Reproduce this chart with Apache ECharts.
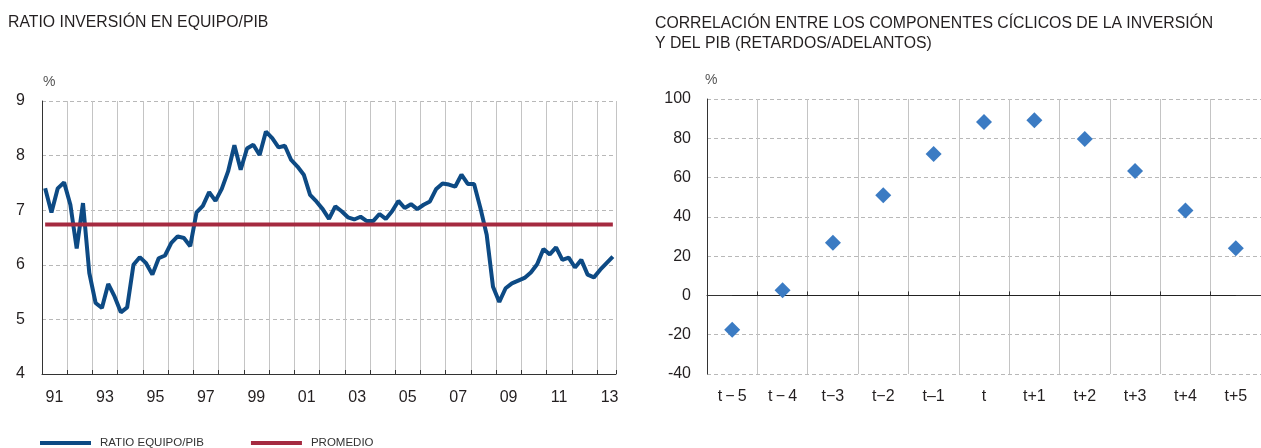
<!DOCTYPE html>
<html>
<head>
<meta charset="utf-8">
<script src="https://cdn.jsdelivr.net/npm/echarts@6/dist/echarts.min.js"></script>
<style>
  html, body { margin: 0; padding: 0; background: #fff; }
  #chart { width: 1261px; height: 448px; }
</style>
</head>
<body>
<div id="chart"></div>
<script>
// años del eje (1991-2013), datos trimestrales hasta 2013 T3
var anios = ['91', '92', '93', '94', '95', '96', '97', '98', '99', '00', '01', '02',
  '03', '04', '05', '06', '07', '08', '09', '10', '11', '12', '13'];
var numTrimestres = 91;

// ratio inversión en equipo / PIB (%), trimestral
var ratioEquipo = [
  7.40, 6.96, 7.40, 7.51, 7.10, 6.30, 7.13, 5.85, 5.30, 5.21,
  5.65, 5.42, 5.13, 5.22, 6.00, 6.14, 6.03, 5.82, 6.12, 6.17,
  6.40, 6.52, 6.49, 6.34, 6.96, 7.08, 7.33, 7.17, 7.39, 7.71,
  8.19, 7.74, 8.13, 8.20, 8.01, 8.44, 8.32, 8.15, 8.18, 7.92,
  7.80, 7.65, 7.28, 7.16, 7.02, 6.84, 7.07, 6.98, 6.87, 6.83,
  6.88, 6.80, 6.80, 6.93, 6.84, 6.98, 7.17, 7.04, 7.11, 7.02,
  7.10, 7.16, 7.39, 7.49, 7.47, 7.43, 7.65, 7.48, 7.48, 7.04,
  6.55, 5.60, 5.32, 5.57, 5.66, 5.71, 5.76, 5.86, 6.01, 6.29,
  6.19, 6.32, 6.09, 6.13, 5.95, 6.09, 5.82, 5.77, 5.91, 6.03,
  6.15
];
var promedio = 6.74;

// correlación componentes cíclicos (retardos / adelantos)
var retardos = ['t\u2009\u2212\u20095', 't\u2009\u2212\u20094', 't\u22123', 't\u22122', 't\u20131',
  't', 't+1', 't+2', 't+3', 't+4', 't+5'];
var correlacion = [-17.5, 2.7, 26.8, 51, 72, 88.3, 89.2, 79.7, 63.4, 43.3, 24];

var trimestres = [];
for (var i = 0; i < numTrimestres; i++) {
  trimestres.push(anios[Math.floor(i / 4)] + 'T' + (i % 4 + 1));
}
var lineaPromedio = trimestres.map(function () { return promedio; });

var fuente = '"Liberation Sans", Arial, Helvetica, sans-serif';
var colorTexto = '#231f20';
var gris = '#c4c4c4';
var grisDash = '#b8b8b8';

var esInicioAnio = function (idx) { return idx % 4 === 0; };

var chart = echarts.init(document.getElementById('chart'), null, { renderer: 'canvas' });

chart.setOption({
  animation: false,
  textStyle: { fontFamily: fuente, color: colorTexto },
  title: [{
    text: 'RATIO INVERSIÓN EN EQUIPO/PIB',
    left: 8,
    top: 14.5,
    padding: 0,
    textStyle: { fontSize: 15.8, fontWeight: 'normal', color: colorTexto, fontFamily: fuente }
  }, {
    text: 'CORRELACIÓN ENTRE LOS COMPONENTES CÍCLICOS DE LA INVERSIÓN\nY DEL PIB (RETARDOS/ADELANTOS)',
    left: 655,
    top: 13.5,
    padding: 0,
    textStyle: { fontSize: 15.8, lineHeight: 20, fontWeight: 'normal', color: colorTexto, fontFamily: fuente }
  }],
  legend: {
    left: 40,
    top: 437,
    padding: 0,
    icon: 'rect',
    itemWidth: 51,
    itemHeight: 4,
    itemGap: 47,
    data: ['RATIO EQUIPO/PIB', 'PROMEDIO'],
    textStyle: { fontSize: 11.5, color: '#333', padding: [0, 0, 0, 4], fontFamily: fuente }
  },
  grid: [
    { left: 42, top: 101, width: 574, height: 273 },
    { left: 707, top: 99, width: 557, height: 275 }
  ],
  xAxis: [{
    type: 'category',
    gridIndex: 0,
    data: trimestres,
    boundaryGap: true,
    axisLine: { lineStyle: { color: '#333', width: 1 } },
    axisTick: { show: true, inside: true, length: 4, interval: esInicioAnio, lineStyle: { color: '#333' } },
    axisLabel: {
      interval: function (idx) { return idx % 8 === 1; },
      formatter: function (v) { return v.slice(0, 2); },
      fontSize: 16,
      color: colorTexto,
      margin: 16,
      padding: [0, 0, 0, 6]
    },
    splitLine: { show: true, interval: esInicioAnio, lineStyle: { color: gris, width: 1 } }
  }, {
    type: 'category',
    gridIndex: 1,
    data: retardos,
    boundaryGap: true,
    axisLine: { lineStyle: { color: '#333', width: 1 } },
    axisTick: { show: true, inside: true, length: 4, lineStyle: { color: '#333' } },
    axisLabel: { fontSize: 16, color: colorTexto, margin: 15 },
    splitLine: { show: true, lineStyle: { color: gris, width: 1 } }
  }],
  yAxis: [{
    type: 'value',
    gridIndex: 0,
    min: 4,
    max: 9,
    interval: 1,
    name: '%',
    nameLocation: 'end',
    nameGap: 12,
    nameTextStyle: { align: 'left', fontSize: 14, color: '#555', padding: [0, 0, 0, 1] },
    axisLine: { show: true, lineStyle: { color: '#333', width: 1 } },
    axisTick: { show: false },
    axisLabel: { fontSize: 16, color: colorTexto, margin: 17 },
    splitLine: { show: true, lineStyle: { color: grisDash, type: [4, 3], width: 1 } }
  }, {
    type: 'value',
    gridIndex: 1,
    min: -40,
    max: 100,
    interval: 20,
    name: '%',
    nameLocation: 'end',
    nameGap: 12,
    nameTextStyle: { align: 'left', fontSize: 14, color: '#555', padding: [0, 0, 0, -2] },
    axisLine: { show: true, lineStyle: { color: '#333', width: 1 } },
    axisTick: { show: false },
    axisLabel: { fontSize: 16, color: colorTexto, margin: 16 },
    splitLine: { show: true, lineStyle: { color: grisDash, type: [4, 3], width: 1 } }
  }],
  series: [{
    name: 'RATIO EQUIPO/PIB',
    type: 'line',
    xAxisIndex: 0,
    yAxisIndex: 0,
    data: ratioEquipo,
    showSymbol: false,
    symbol: 'none',
    itemStyle: { color: '#0d4a84' },
    lineStyle: { color: '#0d4a84', width: 4 },
    z: 3
  }, {
    name: 'PROMEDIO',
    type: 'line',
    xAxisIndex: 0,
    yAxisIndex: 0,
    data: lineaPromedio,
    showSymbol: false,
    symbol: 'none',
    itemStyle: { color: '#a52a40' },
    lineStyle: { color: '#a52a40', width: 4 },
    z: 4
  }, {
    name: 'Correlación',
    type: 'scatter',
    xAxisIndex: 1,
    yAxisIndex: 1,
    data: correlacion,
    symbol: 'diamond',
    symbolSize: 16,
    itemStyle: { color: '#3b7bc3', opacity: 1 },
    z: 5,
    markLine: {
      silent: true,
      symbol: 'none',
      label: { show: false },
      lineStyle: { color: '#222', width: 1, type: 'solid' },
      data: [[
        { xAxis: retardos[0], yAxis: 0 },
        { xAxis: retardos[retardos.length - 1], yAxis: 0 }
      ]]
    }
  }]
});
</script>
</body>
</html>
